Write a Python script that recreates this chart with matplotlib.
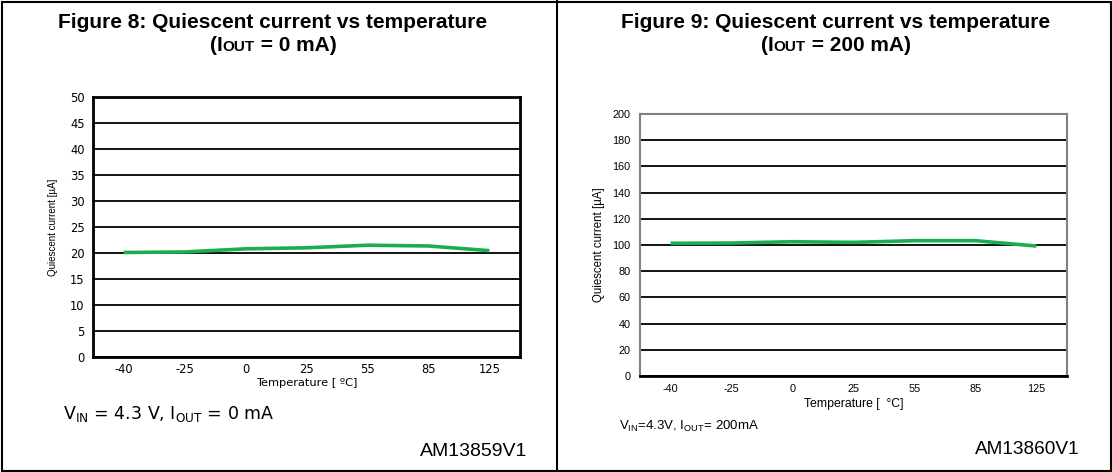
import matplotlib
matplotlib.use("Agg")
import matplotlib.pyplot as plt
from matplotlib.lines import Line2D
from matplotlib.patches import Rectangle

temps = ["-40", "-25", "0", "25", "55", "85", "125"]
iq_0ma = [20.1, 20.2, 20.8, 21.0, 21.5, 21.35, 20.45]
iq_200ma = [101.3, 101.5, 102.5, 102.0, 103.3, 103.3, 99.2]

W, H = 1112, 472
fig = plt.figure(figsize=(W / 100, H / 100), dpi=100)
GREEN = "#1aae50"
ARIAL = "Liberation Sans"


def px(x0, y0, x1, y1):
    # pixel box (top-left origin) -> figure fraction rect
    return [x0 / W, 1 - y1 / H, (x1 - x0) / W, (y1 - y0) / H]


def centered_pieces(cx, y, pieces):
    # pieces: list of (text, fontsize); all on one baseline, centred at cx (pixels)
    r = fig.canvas.get_renderer()
    objs = []
    for s, size in pieces:
        t = fig.text(0, 1 - y / H, s, fontsize=size, weight="bold", family=ARIAL,
                     ha="left", va="baseline")
        objs.append(t)
    widths = [t.get_window_extent(r).width for t in objs]
    x = cx - sum(widths) / 2
    for t, w in zip(objs, widths):
        t.set_x(x / W)
        x += w


# outer frame and divider
fig.add_artist(Rectangle((1.5 / W, 1.5 / H), (W - 3) / W, (H - 3) / H,
                         transform=fig.transFigure, fill=False, lw=1.5, ec="black"))
fig.add_artist(Line2D([557 / W, 557 / W], [0, 1], transform=fig.transFigure,
                      color="black", lw=1.5))

xs = range(len(temps))

# ---------- Figure 8 ----------
ax1 = fig.add_axes(px(93, 97, 520, 357))
ax1.plot(xs, iq_0ma, color=GREEN, lw=2.6, solid_capstyle="butt")
ax1.set_xlim(-0.5, len(temps) - 0.5)
ax1.set_ylim(0, 50)
ax1.set_yticks(range(0, 51, 5))
ax1.set_xticks(list(xs))
ax1.set_xticklabels(temps)
ax1.yaxis.grid(True, color="black", lw=1.3)
ax1.set_axisbelow(True)
for s in ax1.spines.values():
    s.set_linewidth(2)
    s.set_color("black")
ax1.tick_params(axis="y", length=0, labelsize=8.3, pad=6)
ax1.tick_params(axis="x", length=0, labelsize=8.3, pad=4)
ax1.set_xlabel("Temperature [ ºC]", fontsize=8.2, labelpad=2)
ax1.set_ylabel("Quiescent current [µA]", fontsize=7, family=ARIAL)
ax1.yaxis.set_label_coords(-0.082, 0.5)

fig.text(273 / W, 1 - 28 / H, "Figure 8: Quiescent current vs temperature",
         ha="center", va="baseline", fontsize=15, weight="bold", family=ARIAL)
centered_pieces(273, 51, [("(I", 15), ("OUT", 11), (" = 0 mA)", 15)])
fig.text(63 / W, 1 - 414 / H, r"V$_{\mathregular{IN}}$ = 4.3 V, I$_{\mathregular{OUT}}$ = 0 mA",
         ha="left", va="center", fontsize=12.5)
fig.text(527 / W, 1 - 452 / H, "AM13859V1", ha="right", va="center",
         fontsize=14, family=ARIAL)

# ---------- Figure 9 ----------
ax2 = fig.add_axes(px(640, 114, 1067, 376))
ax2.plot(xs, iq_200ma, color=GREEN, lw=2.6, solid_capstyle="butt")
ax2.set_xlim(-0.5, len(temps) - 0.5)
ax2.set_ylim(0, 200)
ax2.set_yticks(range(0, 201, 20))
ax2.set_xticks(list(xs))
ax2.set_xticklabels(temps)
ax2.yaxis.grid(True, color="black", lw=1.3)
ax2.set_axisbelow(True)
for s in ax2.spines.values():
    s.set_linewidth(1.5)
    s.set_color("#808080")
ax2.spines["bottom"].set_color("black")
ax2.spines["bottom"].set_linewidth(2)
ax2.tick_params(axis="y", length=0, labelsize=7.8, pad=7)
ax2.tick_params(axis="x", length=0, labelsize=7.8, pad=6)
for lab in ax2.get_xticklabels() + ax2.get_yticklabels():
    lab.set_family(ARIAL)
ax2.set_xlabel("Temperature [  °C]", fontsize=8.8, family=ARIAL, labelpad=3)
ax2.set_ylabel("Quiescent current [µA]", fontsize=8.3, family=ARIAL)
ax2.yaxis.set_label_coords(-0.082, 0.5)

fig.text(836 / W, 1 - 28 / H, "Figure 9: Quiescent current vs temperature",
         ha="center", va="baseline", fontsize=15, weight="bold", family=ARIAL)
centered_pieces(836, 51, [("(I", 15), ("OUT", 11), (" = 200 mA)", 15)])
fig.text(619 / W, 1 - 426 / H, r"V$_{\mathregular{IN}}$=4.3V, I$_{\mathregular{OUT}}$= 200mA",
         ha="left", va="center", fontsize=9.5, family=ARIAL)
fig.text(1080 / W, 1 - 449 / H, "AM13860V1", ha="right", va="center",
         fontsize=13.7, family=ARIAL)

fig.savefig("out.png", dpi=100)
